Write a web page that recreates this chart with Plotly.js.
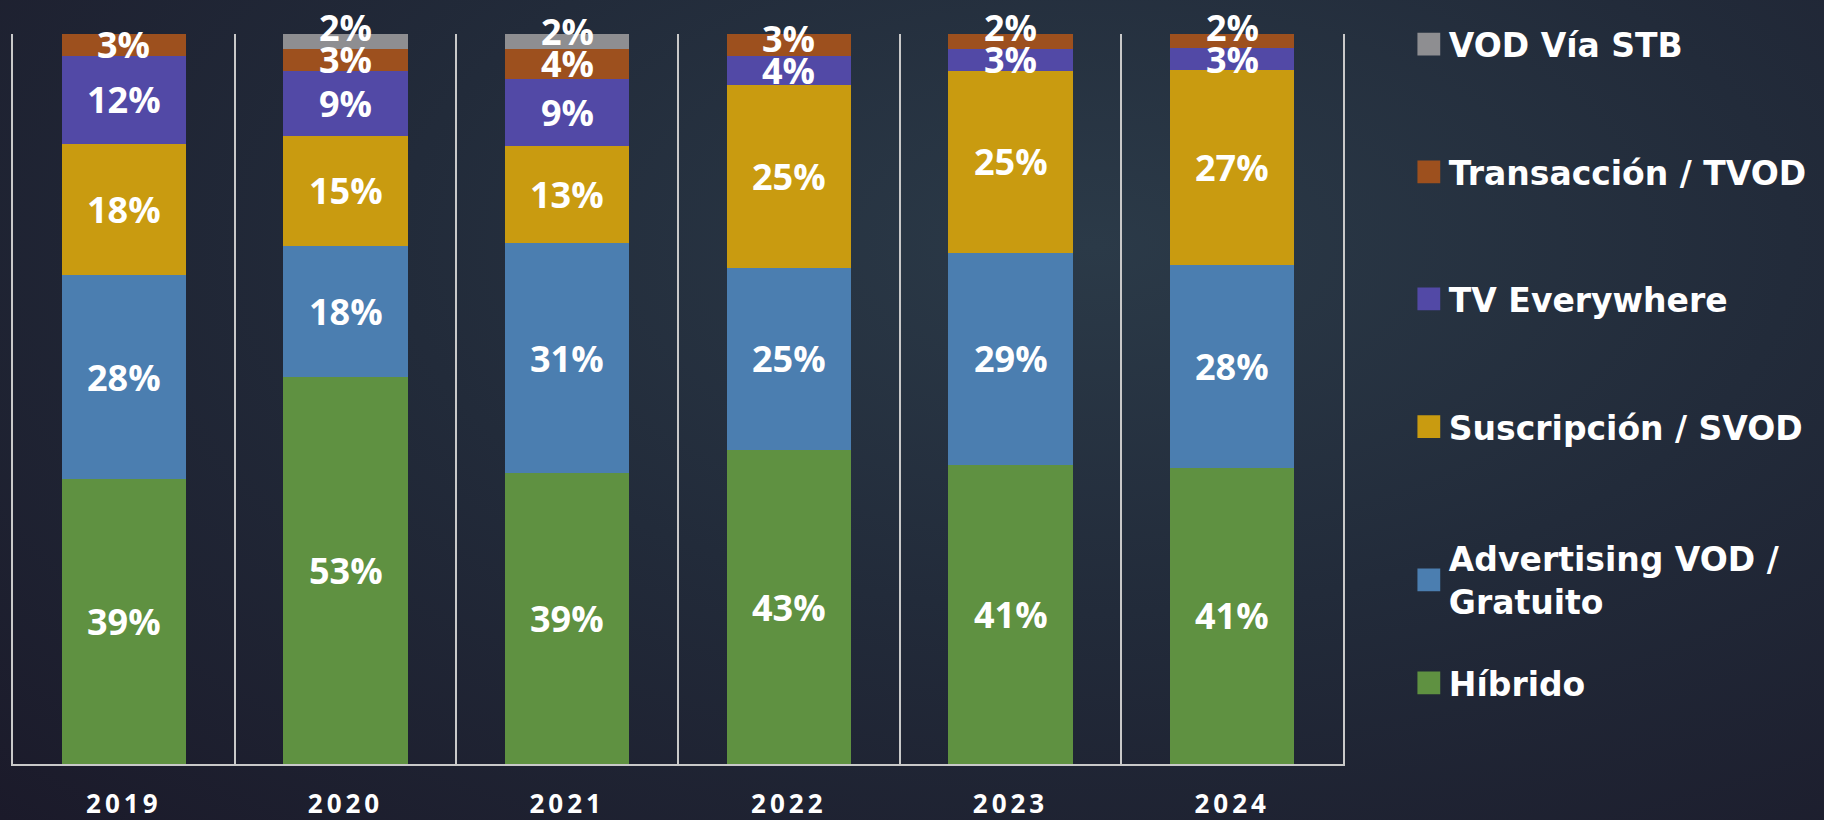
<!DOCTYPE html>
<html>
<head>
<meta charset="utf-8">
<script src="https://cdn.plot.ly/plotly-3.0.1.min.js"></script>
<style>
  html, body { margin: 0; padding: 0; }
  body {
    width: 1824px; height: 820px; overflow: hidden;
    background: radial-gradient(ellipse at 60% 30%, #2b3a48 0%, #222b3a 45%, #1b1a2a 100%);
  }
  #chart { width: 1824px; height: 820px; }
  /* spaced-out year labels and bigger legend squares like the original */
  #chart .xtick text { letter-spacing: 4px; }
  #chart .legendpoints path { transform: translate(20px, 0) scale(1.9); }
</style>
</head>
<body>
<div id="chart"></div>
<script>
var years = ['2019', '2020', '2021', '2022', '2023', '2024'];

var hibrido      = [39, 53, 39, 43, 41, 41];
var advertising  = [28, 18, 31, 25, 29, 28];
var suscripcion  = [18, 15, 13, 25, 25, 27];
var everywhere   = [12,  9,  9,  4,  3,  3];
var transaccion  = [ 3,  3,  4,  3,  2,  2];
var vodStb       = [null, 2, 2, null, null, null];

var names = ['Híbrido', 'Advertising VOD /<br>Gratuito', 'Suscripción / SVOD',
             'TV Everywhere', 'Transacción / TVOD', 'VOD Vía STB'];
var colors = ['#5f9141', '#4b7eb0', '#c99b10', '#5249a6', '#9d501e', '#8e8e91'];
var series = [hibrido, advertising, suscripcion, everywhere, transaccion, vodStb];

var font = '"Open Sans", "DejaVu Sans", sans-serif';
var legendFont = '"DejaVu Sans", "Open Sans", sans-serif';

var traces = series.map((vals, i) => ({
    type: 'bar',
    x: years,
    y: vals,
    name: names[i],
    legend: i === 0 ? 'legend' : 'legend' + (i + 1),
    marker: {color: colors[i]},
    hovertemplate: '%{x}: %{text}<extra>' + names[i] + '</extra>',
    text: vals.map(v => v ? v + '%' : ''),
    textposition: 'none'
}));

// data labels: centred in each segment, but small ones near the top of a
// stack get nudged up so they don't run into the label below (like Excel).
// y axis runs 0..100 over the whole plot height, so paper y = percent / 100
// (paper refs are used so labels pushed above the bars are still drawn)
var minGap = 4.4;   // in % of the axis
var labels = [];
years.forEach((yr, j) => {
    var total = series.reduce((s, vals) => s + (vals[j] || 0), 0);
    var base = 0, prev = -Infinity;
    series.forEach(vals => {
        var v = vals[j];
        if (!v) return;
        var h = v / total * 100;
        var c = base + h / 2;
        if (c - prev < minGap) c = prev + minGap;
        labels.push({
            x: j, y: c / 100, xref: 'x', yref: 'paper',
            text: v + '%', showarrow: false,
            yanchor: 'middle',
            font: {family: font, size: 36, color: '#ffffff', weight: 700}
        });
        prev = c;
        base += h;
    });
});

// legend rows, top to bottom on the right side
var legendY = [0.111, 0.252, 0.462, 0.637, 0.811, 0.986];

var layout = {
    barmode: 'stack',
    barnorm: 'percent',
    bargap: 0.44,
    paper_bgcolor: 'rgba(0,0,0,0)',
    plot_bgcolor: 'rgba(0,0,0,0)',
    margin: {l: 13, r: 477, t: 34, b: 56},
    showlegend: true,
    annotations: labels,
    xaxis: {
        type: 'category',
        range: [-0.5, 5.5],
        tickson: 'boundaries',
        showgrid: true,
        gridcolor: '#c9c9c9',
        gridwidth: 1.5,
        showline: true,
        linecolor: '#c9c9c9',
        linewidth: 2,
        ticks: '',
        ticklabelstandoff: 16,
        tickfont: {family: font, size: 26, color: '#ffffff', weight: 700}
    },
    yaxis: {
        range: [0, 100],
        showgrid: false,
        zeroline: false,
        showticklabels: false,
        showline: true,
        mirror: true,
        linecolor: '#c9c9c9',
        linewidth: 1.5,
        fixedrange: true
    }
};

traces.forEach((t, i) => {
    var key = i === 0 ? 'legend' : 'legend' + (i + 1);
    layout[key] = {
        x: 1.0495,
        xanchor: 'left',
        y: legendY[i],
        yanchor: 'middle',
        bgcolor: 'rgba(0,0,0,0)',
        font: {family: legendFont, size: 33, color: '#ffffff', weight: 700}
    };
});

Plotly.newPlot('chart', traces, layout, {displayModeBar: false});
</script>
</body>
</html>
